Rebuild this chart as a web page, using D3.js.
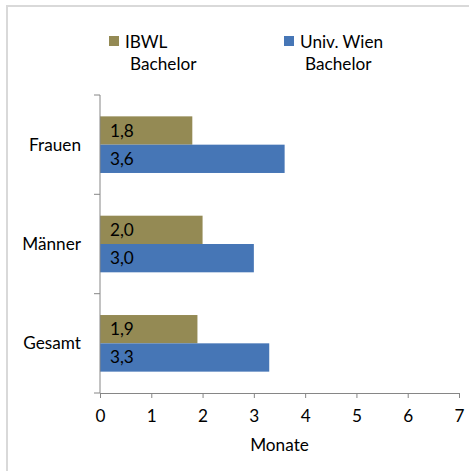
<!DOCTYPE html>
<html><head><meta charset="utf-8">
<script src="https://cdn.jsdelivr.net/npm/d3@7/dist/d3.min.js"></script>
<style>body{margin:0;background:#fff}svg{display:block}</style>
</head><body>
<script>
const categories = ["Frauen", "Männer", "Gesamt"];
const seriesNames = [["IBWL", "Bachelor"], ["Univ. Wien", "Bachelor"]];
const ibwl = [1.8, 2.0, 1.9];
const wien = [3.6, 3.0, 3.3];
const xTicks = [0, 1, 2, 3, 4, 5, 6, 7];
const xTitle = "Monate";
const colors = ["#948A54", "#4676B6"];

const W = 469, H = 471;
const font = "Lato, 'Open Sans', sans-serif";
const fs = 17.2;
const svg = d3.select("body").append("svg").attr("width", W).attr("height", H);

svg.append("rect").attr("x", 7).attr("y", 6).attr("width", 470).attr("height", 470)
  .attr("fill", "none").attr("stroke", "#d9d9d9").attr("stroke-width", 2);

const x = d3.scaleLinear().domain([0, 7]).range([100, 459]);
const y = d3.scaleBand().domain(categories).range([95, 393]).paddingInner(0.43).paddingOuter(0.215);
const sub = d3.scaleBand().domain([0, 1]).range([0, y.bandwidth()]);

const series = [ibwl, wien];
series.forEach((vals, si) => {
  const g = svg.append("g");
  g.selectAll("rect").data(categories).join("rect")
    .attr("x", x(0)).attr("y", (c) => y(c) + sub(si))
    .attr("width", (c, i) => x(vals[i]) - x(0)).attr("height", sub.bandwidth())
    .attr("fill", colors[si]);
  g.selectAll("text").data(categories).join("text")
    .attr("x", x(0) + 10).attr("y", (c) => y(c) + sub(si) + sub.bandwidth() / 2 + 6)
    .attr("font-family", font).attr("font-size", fs).attr("fill", "#000")
    .text((c, i) => d3.format(".1f")(vals[i]).replace(".", ","));
});

// y axis
const yAxisG = svg.append("g");
yAxisG.append("line").attr("x1", x(0)).attr("x2", x(0)).attr("y1", 95).attr("y2", 393).attr("stroke", "#868686");
yAxisG.selectAll("line.t").data([95, 194.3, 293.7, 393]).join("line").attr("class", "t")
  .attr("x1", x(0) - 6).attr("x2", x(0)).attr("y1", d => d).attr("y2", d => d).attr("stroke", "#868686");
yAxisG.selectAll("text").data(categories).join("text")
  .attr("x", 81).attr("y", c => y(c) + y.bandwidth() / 2 + 6)
  .attr("text-anchor", "end").attr("font-family", font).attr("font-size", fs).attr("fill", "#000")
  .text(c => c);

// x axis
const xAxis = d3.axisBottom(x).tickValues(xTicks).tickSize(5).tickPadding(12).tickFormat(d3.format("d"));
const xg = svg.append("g").attr("transform", "translate(0,393)").call(xAxis);
xg.select(".domain").attr("stroke", "#868686").attr("d", `M${x(0)},0.5H${x(7)}`);
xg.selectAll(".tick line").attr("stroke", "#868686");
xg.selectAll(".tick text").attr("font-family", font).attr("font-size", fs).attr("fill", "#000");

svg.append("text").attr("x", (x(0) + x(7)) / 2).attr("y", 451).attr("text-anchor", "middle")
  .attr("font-family", font).attr("font-size", fs).attr("fill", "#000").text(xTitle);

// legend
const legX = [109, 284];
seriesNames.forEach((lines, i) => {
  const g = svg.append("g");
  g.append("rect").attr("x", legX[i]).attr("y", 36).attr("width", 10).attr("height", 10).attr("fill", colors[i]);
  g.append("text").attr("x", legX[i] + 16).attr("y", 48).attr("font-family", font).attr("font-size", fs).attr("fill", "#000").text(lines[0]);
  g.append("text").attr("x", legX[i] + 21).attr("y", 70).attr("font-family", font).attr("font-size", fs).attr("fill", "#000").text(lines[1]);
});
</script>
</body></html>
